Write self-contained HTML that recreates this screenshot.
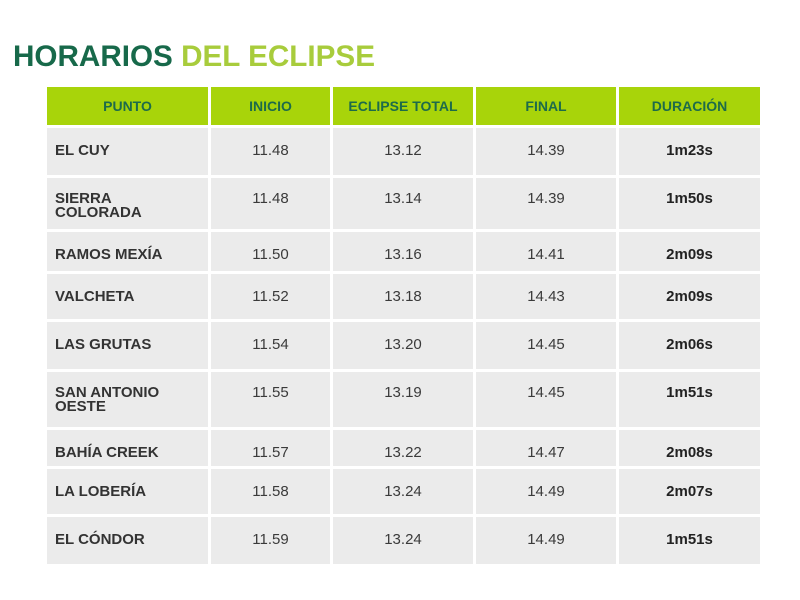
<!DOCTYPE html>
<html><head><meta charset="utf-8"><style>
body{margin:0;width:800px;height:600px;background:#fff;position:relative;overflow:hidden;font-family:"Liberation Sans",sans-serif}
.c{position:absolute;box-sizing:border-box;font-size:15px;line-height:14px;color:#3a3a3a}
.h{background:#a8d40a;color:#1d6b4a;font-weight:bold;font-size:14px;display:flex;align-items:center;justify-content:center}
.g{background:#ebebeb}
.n{font-weight:bold;padding-left:8px;color:#333}
.t{text-align:center}
.d{font-weight:bold;text-align:center;color:#222}
</style></head><body>
<svg style="position:absolute;left:0;top:0" width="800" height="80"><text x="13" y="66" font-family="Liberation Sans" font-weight="bold" font-size="30" textLength="362" lengthAdjust="spacingAndGlyphs"><tspan fill="#17694a">HORARIOS </tspan><tspan fill="#a8cc3c">DEL ECLIPSE</tspan></text></svg>
<div id="t"></div>
<script>
const X=[[47,208],[211,330],[333,473],[476,616],[619,760]];
const H=["PUNTO","INICIO","ECLIPSE TOTAL","FINAL","DURACIÓN"];
const R=[[128,175],[178,229],[232,271],[274,319],[322,369],[372,427],[430,466],[469,514],[517,564]];
const D=[["EL CUY","11.48","13.12","14.39","1m23s"],["SIERRA<br>COLORADA","11.48","13.14","14.39","1m50s"],["RAMOS MEXÍA","11.50","13.16","14.41","2m09s"],["VALCHETA","11.52","13.18","14.43","2m09s"],["LAS GRUTAS","11.54","13.20","14.45","2m06s"],["SAN ANTONIO<br>OESTE","11.55","13.19","14.45","1m51s"],["BAHÍA CREEK","11.57","13.22","14.47","2m08s"],["LA LOBERÍA","11.58","13.24","14.49","2m07s"],["EL CÓNDOR","11.59","13.24","14.49","1m51s"]];
let s="";
X.forEach((x,i)=>{s+=`<div class="c h" style="left:${x[0]}px;top:87px;width:${x[1]-x[0]}px;height:38px">${H[i]}</div>`});
R.forEach((r,j)=>{X.forEach((x,i)=>{let cl=i==0?"n":i==4?"d":"t";s+=`<div class="c g ${cl}" style="left:${x[0]}px;top:${r[0]}px;width:${x[1]-x[0]}px;height:${r[1]-r[0]}px;padding-top:${j==1||j==5?14:16}px">${D[j][i]}</div>`})});
document.getElementById("t").innerHTML=s;
</script>
</body></html>
